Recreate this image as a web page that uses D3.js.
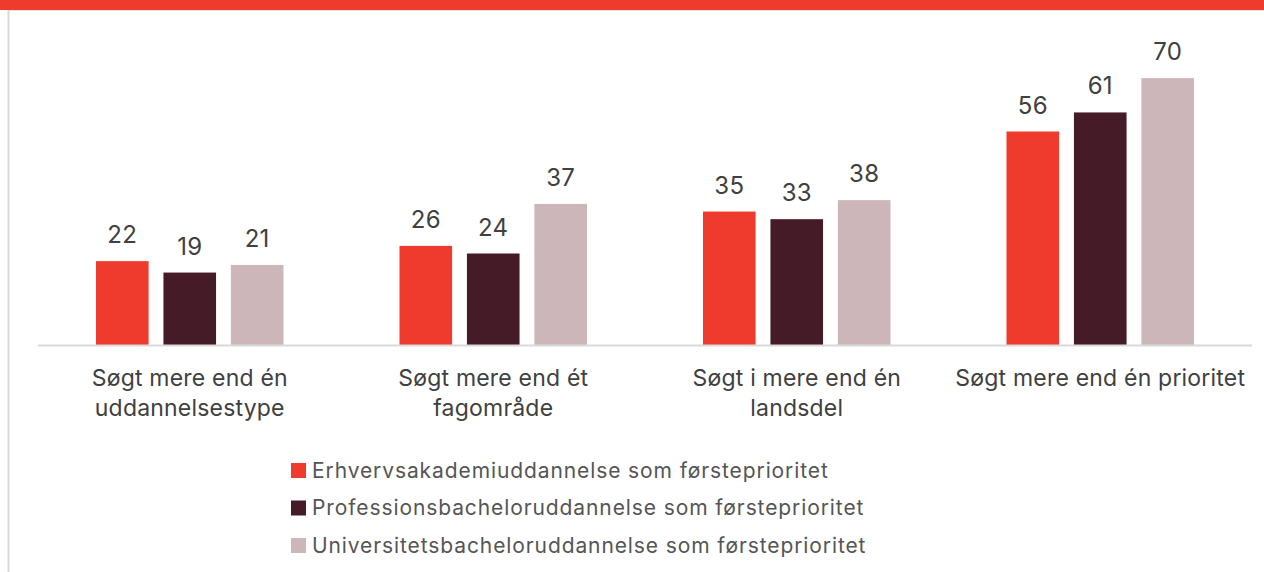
<!DOCTYPE html>
<html>
<head>
    <meta charset="UTF-8">
    <title>soegning</title>
    <script src="https://cdn.jsdelivr.net/npm/d3@7/dist/d3.min.js"></script>
  </head>
  <style>
    body { margin:0; background:#fff; }
    text { font-family: Inter, "Liberation Sans", sans-serif; }
  </style>
  <body>
    <svg width="1264" height="572"></svg>
    <script>
        // data
        var categories = [
            ["Søgt mere end én", "uddannelsestype"],
            ["Søgt mere end ét", "fagområde"],
            ["Søgt i mere end én", "landsdel"],
            ["Søgt mere end én prioritet"]
        ];
        var seriesNames = [
            "Erhvervsakademiuddannelse som førsteprioritet",
            "Professionsbacheloruddannelse som førsteprioritet",
            "Universitetsbacheloruddannelse som førsteprioritet"
        ];
        var erhvervsakademi = [22, 26, 35, 56];
        var professionsbachelor = [19, 24, 33, 61];
        var universitetsbachelor = [21, 37, 38, 70];
        var colors = ["#ef3b2e", "#441b27", "#cdb6b9"];

        var series = [erhvervsakademi, professionsbachelor, universitetsbachelor];

        var svg = d3.select("svg");
        var width = +svg.attr("width");

        // ramme
        svg.append("rect").attr("x", 0).attr("y", 0).attr("width", width).attr("height", 10).attr("fill", "#ef3b2e");
        svg.append("line").attr("x1", 8.5).attr("x2", width).attr("y1", 10.5).attr("y2", 10.5)
            .attr("stroke", "#e3e3e3").attr("stroke-width", 1);
        svg.append("line").attr("x1", 8.5).attr("x2", 8.5).attr("y1", 10).attr("y2", 572)
            .attr("stroke", "#d9d9d9").attr("stroke-width", 2);

        var x0 = d3.scaleBand()
            .domain(d3.range(categories.length))
            .range([38, 1252])
            .paddingInner(0)
            .paddingOuter(0);
        var x1 = d3.scaleBand()
            .domain(d3.range(series.length))
            .range([58, x0.bandwidth() - 58])
            .paddingInner(0.22);
        var y = d3.scaleLinear().domain([0, 80]).range([345, 40]);

        var g = svg.append("g");

        var groups = g.selectAll("g.grp")
            .data(categories)
            .enter()
            .append("g")
            .attr("class", "grp")
            .attr("transform", function(d, i){ return "translate(" + x0(i) + ",0)"; });

        groups.each(function(c, ci){
            var gg = d3.select(this);
            var vals = series.map(function(s){ return s[ci]; });
            gg.selectAll("rect")
                .data(vals)
                .enter()
                .append("rect")
                .attr("x", function(d, si){ return x1(si); })
                .attr("y", function(d){ return y(d); })
                .attr("width", x1.bandwidth())
                .attr("height", function(d){ return y(0) - y(d); })
                .attr("fill", function(d, si){ return colors[si]; });
            gg.selectAll("text.val")
                .data(vals)
                .enter()
                .append("text")
                .attr("class", "val")
                .attr("x", function(d, si){ return x1(si) + x1.bandwidth() / 2; })
                .attr("y", function(d){ return y(d) - 18; })
                .attr("text-anchor", "middle")
                .attr("font-size", 24)
                .attr("letter-spacing", 0.3)
                .attr("fill", "#404040")
                .text(function(d){ return d; });
        });

        // x-akse
        svg.append("line").attr("x1", 38).attr("x2", 1252).attr("y1", 345.5).attr("y2", 345.5)
            .attr("stroke", "#d9d9d9").attr("stroke-width", 2);

        var labels = svg.append("g").selectAll("text")
            .data(categories)
            .enter()
            .append("text")
            .attr("text-anchor", "middle")
            .attr("font-size", 23)
            .attr("letter-spacing", 0.2)
            .attr("fill", "#404040")
            .attr("transform", function(d, i){ return "translate(" + (x0(i) + x0.bandwidth() / 2) + ",386)"; });
        labels.selectAll("tspan")
            .data(function(d){ return d; })
            .enter()
            .append("tspan")
            .attr("x", 0)
            .attr("y", function(d, i){ return i * 30; })
            .text(function(d){ return d; });

        // legende
        var legend = svg.append("g").attr("transform", "translate(291,0)");
        var li = legend.selectAll("g")
            .data(seriesNames)
            .enter()
            .append("g")
            .attr("transform", function(d, i){ return "translate(0," + (463 + i * 37.5) + ")"; });
        li.append("rect").attr("width", 15).attr("height", 15)
            .attr("fill", function(d, i){ return colors[i]; });
        li.append("text")
            .attr("x", 21)
            .attr("y", 14.5)
            .attr("font-size", 21)
            .attr("letter-spacing", 0.9)
            .attr("fill", "#555")
            .text(function(d){ return d; });
    </script>
  </body>
</html>
